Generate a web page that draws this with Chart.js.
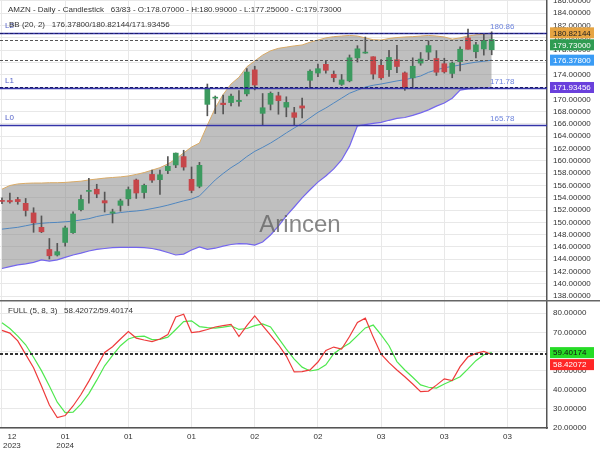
<!DOCTYPE html>
<html lang="en">
  <head>
    <meta charset="UTF-8">
    <title>AMZN - Daily - Candlestick</title>
    <script src="https://cdn.jsdelivr.net/npm/chart.js"></script>
    <style>
      body { margin: 0; background: #fff; }
      canvas { display: block; }
    </style>
  </head>
  <body>
    <canvas id="priceChart" width="600" height="300"></canvas>
    <canvas id="stochChart" width="600" height="150"></canvas>
    <script>
      const FONT = "'Liberation Sans', Arial, sans-serif";

      // x axis: candle index of each labelled grid line, and its label
      const xTickPos = [0, 8, 16, 24, 32, 40, 48, 56, 64];
      const xTickLabels = [['12', '2023'], ['01', '2024'], ['01'], ['01'], ['02'], ['02'], ['03'], ['03'], ['03']];

      // daily candles
      const opens = [153.56, 153.56, 153.72, 153.10, 151.54, 149.20, 145.59, 144.69, 146.74, 148.33,
        152.06, 155.04, 155.39, 153.53, 151.49, 152.77, 153.83, 156.89, 154.85, 157.80,
        156.95, 158.42, 159.34, 160.70, 157.00, 155.87, 169.19, 170.20, 169.39, 169.48,
        169.65, 170.90, 174.80, 167.73, 169.21, 170.58, 168.74, 167.83, 168.94, 173.10,
        174.28, 175.70, 174.08, 172.44, 173.01, 176.75, 177.53, 176.93, 175.54, 174.83,
        176.44, 174.31, 173.50, 175.90, 177.69, 176.64, 175.80, 174.22, 176.14, 179.99,
        177.75, 178.20, 178.07];
      const highs = [153.98, 154.78, 154.08, 153.89, 152.38, 151.05, 147.38, 146.59, 149.40, 151.71,
        154.42, 157.17, 156.20, 154.93, 152.15, 153.78, 155.76, 157.05, 156.21, 158.51,
        158.51, 160.72, 161.29, 161.73, 159.01, 159.76, 172.50, 170.55, 170.71, 170.88,
        171.43, 175.00, 175.39, 170.95, 171.21, 171.17, 170.42, 168.71, 170.23, 174.80,
        175.75, 176.37, 174.62, 174.05, 177.22, 178.73, 180.14, 176.93, 176.46, 177.99,
        178.79, 174.47, 176.76, 177.62, 179.53, 177.93, 176.69, 176.09, 178.53, 181.42,
        179.26, 180.60, 180.99];
      const lows = [153.03, 153.12, 152.95, 151.03, 148.39, 148.33, 144.05, 144.53, 146.15, 148.21,
        151.88, 153.12, 154.01, 151.69, 149.91, 151.82, 152.74, 153.90, 153.93, 156.48,
        154.55, 157.91, 158.90, 158.49, 154.81, 155.62, 167.33, 167.70, 167.65, 168.94,
        168.88, 170.58, 171.54, 165.75, 168.28, 167.59, 167.17, 165.74, 167.00, 171.77,
        173.70, 174.26, 172.86, 172.27, 172.85, 176.07, 177.49, 173.30, 173.26, 173.72,
        174.33, 171.47, 171.98, 175.55, 176.47, 173.90, 174.28, 173.52, 174.64, 178.15,
        176.75, 177.20, 177.25];
      const closes = [153.41, 153.34, 153.38, 151.94, 149.93, 148.47, 144.57, 145.24, 149.10, 151.37,
        153.73, 155.18, 154.62, 153.16, 151.71, 153.50, 155.34, 154.78, 156.02, 156.87,
        157.75, 159.12, 161.26, 159.00, 155.20, 159.28, 171.81, 170.31, 169.15, 170.53,
        169.84, 174.45, 172.34, 168.64, 170.98, 169.80, 169.51, 167.08, 168.59, 174.58,
        174.99, 174.73, 173.54, 173.16, 176.76, 178.22, 177.58, 174.12, 173.51, 176.82,
        175.35, 171.96, 175.39, 176.56, 178.75, 174.42, 174.48, 175.90, 178.15, 178.15,
        178.87, 179.60, 179.73];

      // Bollinger bands (20, 2)
      const bbUpper = [155.4, 156.0, 156.25, 156.35, 156.4, 156.4, 156.45, 156.45, 156.5, 156.6,
        156.7, 156.9, 157.05, 157.2, 157.3, 157.4, 157.55, 157.8, 158.1, 158.5,
        158.9, 159.5, 160.3, 161.3, 162.25, 162.9, 165.8, 168.6, 170.8, 172.5,
        173.6, 175.3, 176.25, 177.2, 177.9, 178.3, 178.5, 178.7, 178.85, 179.3,
        179.65, 180.0, 180.2, 180.3, 180.4, 180.3, 180.0, 179.7, 179.65, 179.9,
        180.05, 180.15, 180.2, 180.3, 180.4, 180.3, 180.15, 179.8, 180.0, 180.3,
        180.5, 180.6, 180.82144];
      const bbMid = [148.9, 149.05, 149.2, 149.45, 149.7, 149.85, 149.95, 150.0, 150.1, 150.2,
        150.4, 150.6, 150.95, 151.2, 151.4, 151.6, 151.75, 151.85, 152.0, 152.25,
        152.5, 152.8, 153.15, 153.5, 153.8, 154.3, 155.6, 156.9, 157.95, 158.9,
        159.7, 160.7, 161.55, 162.2, 162.9, 163.7, 164.55, 165.35, 166.1, 167.0,
        167.9, 168.6, 169.4, 170.2, 171.0, 171.5, 172.0, 172.3, 172.5, 172.75,
        173.0, 173.2, 173.5, 173.8, 174.4, 174.8, 175.15, 175.35, 175.6, 175.85,
        176.05, 176.2, 176.378];
      const bbLower = [142.5, 142.8, 143.1, 143.25, 143.5, 143.9, 143.7, 143.9, 144.3, 144.7,
        145.0, 145.35, 145.6, 145.75, 145.9, 145.95, 145.95, 145.95, 145.9, 145.75,
        145.5, 145.1, 144.7, 144.85, 145.5, 146.0, 145.6, 145.8, 146.15, 146.4,
        146.55, 146.5, 146.3, 146.8, 147.95, 149.4, 151.05, 152.5, 154.0, 155.3,
        156.55, 157.55, 158.7, 160.15, 162.4, 165.7, 165.9, 166.1, 166.25, 166.6,
        166.9, 167.05, 167.4, 167.8, 168.3, 168.9, 169.4, 170.2, 171.5, 171.7,
        171.75, 171.85, 171.93456];

      // full stochastic (5, 8, 3)
      const stochK = [71.0, 69.6, 65.5, 58.5, 51.5, 42.0, 32.0, 25.5, 26.5, 31.5,
        37.5, 44.5, 52.0, 59.5, 62.5, 66.5, 70.4, 67.0, 66.0, 65.2,
        66.5, 68.8, 78.0, 79.5, 69.9, 70.4, 71.5, 72.8, 73.5, 74.2,
        67.8, 73.5, 78.6, 73.5, 68.5, 63.5, 57.6, 49.3, 49.5, 50.4,
        54.5, 60.5, 62.3, 61.2, 67.8, 75.2, 77.4, 67.5, 58.6, 54.2,
        50.3, 46.8, 43.0, 39.0, 39.3, 42.4, 45.7, 44.8, 52.1, 57.2,
        59.0, 60.0, 58.42072];
      const stochD = [75.0, 72.0, 68.0, 63.5, 57.0, 50.0, 42.0, 33.5, 28.0, 28.3,
        32.5, 38.0, 45.0, 52.5, 58.0, 63.0, 66.5, 67.8, 68.0, 66.2,
        66.3, 67.5, 71.5, 75.6, 76.0, 73.0, 72.5, 72.2, 72.7, 73.4,
        71.5, 72.0, 73.5, 74.4, 72.8, 67.0, 61.2, 56.0, 51.8, 49.8,
        50.5, 53.0, 58.8, 61.8, 64.3, 68.3, 72.3, 73.8, 68.7, 63.0,
        54.7, 50.3, 46.5, 42.5, 41.3, 40.9, 43.0, 44.8, 46.8, 50.9,
        55.2, 58.3, 59.40174];

      // horizontal levels drawn on the price panel
      const levelValues = [180.86, 171.78, 165.78];
      const levelNames = ['L2', 'L1', 'L0'];

      const last = arr => arr[arr.length - 1];
      const idx = closes.map((_, i) => i);
      const pts = arr => idx.map(i => ({ x: i, y: arr[i] }));

      const upColor = '#3c9a5f';
      const downColor = '#c6464a';
      const bodyColors = idx.map(i => closes[i] >= opens[i] ? upColor : downColor);

      function xScale(withLabels) {
        return {
          type: 'linear',
          min: -0.25,
          max: 69,
          offset: false,
          afterBuildTicks: axis => { axis.ticks = xTickPos.map(v => ({ value: v })); },
          grid: { color: '#e8e8e8', drawTicks: false, offset: false },
          border: { display: withLabels, color: '#555', width: 1.5 },
          ticks: { display: false },
          afterFit: s => {
            s.height = withLabels ? 22 : 0;
            s.paddingLeft = s.paddingRight = 0;
          }
        };
      }

      function yScale(min, max, step) {
        return {
          position: 'right',
          min: min,
          max: max,
          beginAtZero: false,
          ticks: {
            stepSize: step,
            includeBounds: false,
            autoSkip: false,
            padding: 6,
            color: '#333',
            font: { family: FONT, size: 8 },
            callback: v => v.toFixed(5)
          },
          grid: { color: '#e8e8e8', drawTicks: false },
          border: { display: true, color: '#555', width: 1.5 },
          afterFit: s => {
            s.width = 53;
            s.paddingTop = s.paddingBottom = 0;
          }
        };
      }

      function hLine(ctx, x0, x1, y) {
        ctx.beginPath();
        ctx.moveTo(x0, y);
        ctx.lineTo(x1, y);
        ctx.stroke();
      }

      // coloured value tags on the right axis, pushed down when they overlap
      function drawTags(chart, tags) {
        const { ctx, chartArea: a, scales: { y } } = chart;
        const h = 11;
        let prevBottom = -Infinity;
        tags.map(t => ({ ...t, py: y.getPixelForValue(t.value) }))
          .sort((p, q) => p.py - q.py)
          .forEach(t => {
            const top = Math.max(t.py - h / 2, prevBottom + 1);
            prevBottom = top + h;
            ctx.fillStyle = t.bg;
            ctx.fillRect(a.right + 3, top, 44, h);
            ctx.fillStyle = t.fg;
            ctx.font = `8px ${FONT}`;
            ctx.textAlign = 'left';
            ctx.textBaseline = 'middle';
            ctx.fillText(t.value.toFixed(5), a.right + 6, top + h / 2 + 0.5);
          });
      }

      const priceDecor = {
        id: 'priceDecor',
        afterDatasetsDraw(chart) {
          const { ctx, chartArea: a, scales: { y } } = chart;
          ctx.save();
          ctx.font = `8px ${FONT}`;
          ctx.textBaseline = 'middle';

          levelValues.forEach((v, k) => {
            const py = Math.round(y.getPixelForValue(v)) + 0.5;
            ctx.strokeStyle = '#3434a8';
            ctx.lineWidth = 1.3;
            ctx.setLineDash([]);
            hLine(ctx, a.left, a.right, py);
            ctx.fillStyle = '#5563c8';
            ctx.textAlign = 'left';
            ctx.fillText(levelNames[k], 5, py - 8);
            ctx.fillStyle = '#6d84dd';
            ctx.fillText(v.toFixed(2), 490, py - 7);
          });

          const dashed = [
            { value: last(bbUpper), color: '#1c1c6a' },
            { value: last(closes), color: '#555' },
            { value: last(bbMid), color: '#555' },
            { value: last(bbLower), color: '#1c1c6a' }
          ];
          ctx.setLineDash([3, 2]);
          dashed.forEach(d => {
            const py = Math.round(y.getPixelForValue(d.value)) + 0.5;
            ctx.strokeStyle = d.color;
            ctx.lineWidth = 1;
            hLine(ctx, a.left, a.right, py);
          });
          ctx.setLineDash([]);

          ctx.font = `24px ${FONT}`;
          ctx.fillStyle = 'rgba(95,95,95,0.75)';
          ctx.textAlign = 'center';
          ctx.textBaseline = 'alphabetic';
          ctx.fillText('Arincen', 300, 232);
          ctx.restore();
        },
        afterDraw(chart) {
          const { ctx } = chart;
          ctx.save();
          ctx.font = `8px ${FONT}`;
          ctx.fillStyle = '#333';
          ctx.textAlign = 'left';
          ctx.textBaseline = 'middle';
          ctx.fillText('AMZN - Daily - Candlestick   63/83 - O:' + last(opens).toFixed(5) +
            ' - H:' + last(highs).toFixed(5) + ' - L:' + last(lows).toFixed(5) +
            ' - C:' + last(closes).toFixed(5), 8, 9.5);
          ctx.fillText('BB (20, 2)   ' + last(bbMid).toFixed(5) + '/' + last(bbUpper).toFixed(5) +
            '/' + last(bbLower).toFixed(5), 9, 25);
          drawTags(chart, [
            { value: last(bbUpper), bg: '#e6a442', fg: '#222' },
            { value: last(closes), bg: '#2f9c52', fg: '#fff' },
            { value: last(bbMid), bg: '#3a9cf5', fg: '#fff' },
            { value: last(bbLower), bg: '#6a40dc', fg: '#fff' }
          ]);
          ctx.restore();
        }
      };

      new Chart(document.getElementById('priceChart'), {
        type: 'bar',
        data: {
          datasets: [
            {
              type: 'bar',
              data: idx.map(i => ({ x: i, y: [opens[i], closes[i]] })),
              backgroundColor: bodyColors,
              barThickness: 5,
              minBarLength: 1,
              grouped: false,
              order: 1
            },
            {
              type: 'bar',
              data: idx.map(i => ({ x: i, y: [lows[i], highs[i]] })),
              backgroundColor: '#555',
              barThickness: 1,
              grouped: false,
              order: 2
            },
            {
              type: 'line',
              data: pts(bbUpper),
              borderColor: '#d9aa66',
              borderWidth: 1,
              pointRadius: 0,
              fill: '+2',
              backgroundColor: 'rgba(128,128,128,0.5)',
              order: 3
            },
            {
              type: 'line',
              data: pts(bbMid),
              borderColor: '#4f86bf',
              borderWidth: 1,
              pointRadius: 0,
              fill: false,
              order: 3
            },
            {
              type: 'line',
              data: pts(bbLower),
              borderColor: '#7466ee',
              borderWidth: 1.2,
              pointRadius: 0,
              fill: false,
              order: 3
            }
          ]
        },
        options: {
          responsive: false,
          animation: false,
          layout: { padding: 0 },
          plugins: {
            legend: { display: false },
            tooltip: { enabled: false },
            filler: { drawTime: 'beforeDatasetsDraw' }
          },
          scales: {
            x: xScale(false),
            y: yScale(137.38, 186.16, 2)
          }
        },
        plugins: [priceDecor]
      });

      const stochDecor = {
        id: 'stochDecor',
        afterDatasetsDraw(chart) {
          const { ctx, chartArea: a, scales: { y } } = chart;
          ctx.save();
          ctx.setLineDash([3, 2]);
          ctx.strokeStyle = '#333';
          ctx.lineWidth = 1;
          [last(stochK), last(stochD)].forEach(v => {
            hLine(ctx, a.left, a.right, Math.round(y.getPixelForValue(v)) + 0.5);
          });
          ctx.restore();
        },
        afterDraw(chart) {
          const { ctx, chartArea: a, scales: { x } } = chart;
          ctx.save();
          ctx.strokeStyle = '#666';
          ctx.lineWidth = 1.5;
          hLine(ctx, 0, chart.width, 0.75);

          ctx.font = `8px ${FONT}`;
          ctx.fillStyle = '#333';
          ctx.textAlign = 'left';
          ctx.textBaseline = 'middle';
          ctx.fillText('FULL (5, 8, 3)   ' + last(stochK).toFixed(5) + '/' + last(stochD).toFixed(5), 8, 11);

          ctx.textAlign = 'center';
          xTickPos.forEach((v, k) => {
            const lines = xTickLabels[k];
            const w = Math.max(...lines.map(t => ctx.measureText(t).width));
            const px = Math.max(x.getPixelForValue(v), w / 2 + 3);
            lines.forEach((t, j) => ctx.fillText(t, px, a.bottom + 9 + j * 8.5));
          });

          drawTags(chart, [
            { value: last(stochD), bg: '#26dc26', fg: '#111' },
            { value: last(stochK), bg: '#ff2626', fg: '#fff' }
          ]);
          ctx.restore();
        }
      };

      new Chart(document.getElementById('stochChart'), {
        type: 'line',
        data: {
          datasets: [
            { data: pts(stochK), borderColor: '#ee3b3b', borderWidth: 1.2, pointRadius: 0, fill: false },
            { data: pts(stochD), borderColor: '#4fe84f', borderWidth: 1.2, pointRadius: 0, fill: false }
          ]
        },
        options: {
          responsive: false,
          animation: false,
          layout: { padding: 0 },
          plugins: {
            legend: { display: false },
            tooltip: { enabled: false }
          },
          scales: {
            x: xScale(true),
            y: yScale(20, 86.9, 10)
          }
        },
        plugins: [stochDecor]
      });
    </script>
  </body>
</html>
